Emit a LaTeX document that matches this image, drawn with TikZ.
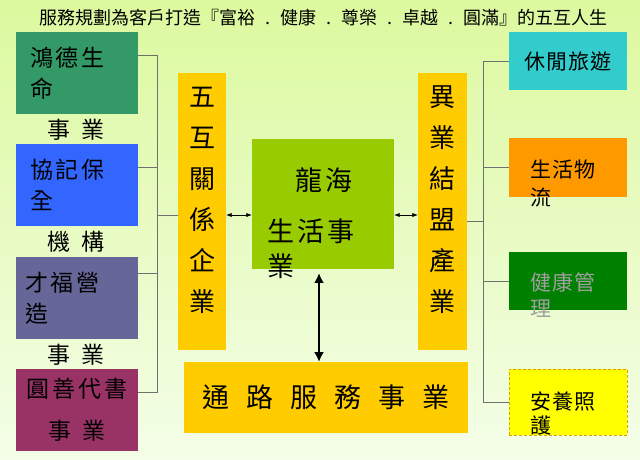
\documentclass[tikz,border=0pt]{standalone}
\usepackage{fontspec}
\setmainfont{Noto Sans CJK TC}
\usetikzlibrary{arrows.meta, positioning, calc}
\definecolor{bgtop}{HTML}{DCF99E}
\definecolor{bgbot}{HTML}{F4FEE8}
\definecolor{deepteal}{HTML}{339966}
\definecolor{royalblue}{HTML}{3366FF}
\definecolor{slateviolet}{HTML}{666699}
\definecolor{plumred}{HTML}{993366}
\definecolor{gold}{HTML}{FFCC00}
\definecolor{leaf}{HTML}{99CC00}
\definecolor{aqua}{HTML}{33CCCC}
\definecolor{amber}{HTML}{FF9900}
\definecolor{forest}{HTML}{008000}
\definecolor{lemon}{HTML}{FFFF00}
\definecolor{dashamber}{HTML}{DDA000}
\definecolor{busgray}{HTML}{707070}
\definecolor{healthgray}{HTML}{A0A0A0}

\begin{document}
\begin{tikzpicture}[
  x=1pt, y=-1pt,
  box/.style={rectangle, anchor=north west, inner sep=0pt, outer sep=0pt},
  lbox/.style={box, minimum width=122pt, minimum height=82pt, text width=94pt, inner xsep=14pt, align=left, font=\fontsize{23}{31}\selectfont\addfontfeatures{LetterSpace=13}},
  rbox/.style={box, minimum width=118pt, minimum height=58pt},
  tag/.style={inner sep=0pt, font=\fontsize{23}{28}\selectfont},
  vtext/.style={align=center, inner sep=0pt, font=\fontsize{26}{41}\selectfont},
  rtext/.style={anchor=north west, align=left, inner sep=0pt, font=\fontsize{21}{28}\selectfont\addfontfeatures{LetterSpace=5}},
  bus/.style={draw=busgray, line width=0.9pt},
  >={Latex[length=2mm]}
]
\shade[top color=bgtop, bottom color=bgbot] (0,0) rectangle (640,459);
\useasboundingbox (0,0) rectangle (640,459);

\node[inner sep=0pt, font=\fontsize{18}{20}\selectfont] (motto) at (323.5,18) {服務規劃為客戶打造『富裕\hspace{10pt}.\hspace{10pt}健康\hspace{10pt}.\hspace{10pt}尊榮\hspace{10pt}.\hspace{10pt}卓越\hspace{10pt}.\hspace{10pt}圓滿』的五互人生};

\node[lbox, fill=deepteal] (hongde) at (16,32) {鴻德生\\命};
\node[tag] (hongdetag) at (76,130) {事\hspace{11pt}業};
\node[lbox, fill=royalblue] (xieji) at (16,144) {協記保\\全};
\node[tag] (xiejitag) at (76,242) {機\hspace{11pt}構};
\node[lbox, fill=slateviolet, inner xsep=9pt, text width=104pt] (caifu) at (16,257) {才福營\\造};
\node[tag] (caifutag) at (76,355) {事\hspace{11pt}業};
\node[lbox, fill=plumred, align=center, inner xsep=4pt, text width=114pt] (yuanshan) at (16,369) {圓善代書\\[11pt]事\hspace{11pt}業};

\node[box, fill=gold, minimum width=48pt, minimum height=277pt] (wuhu) at (178,73) {};
\node[vtext] (wuhutext) at (202,200) {五\\互\\關\\係\\企\\業};
\node[box, fill=gold, minimum width=49pt, minimum height=277pt] (yiye) at (418,73) {};
\node[vtext] (yiyetext) at (442.5,200) {異\\業\\結\\盟\\產\\業};

\node[box, fill=leaf, minimum width=142pt, minimum height=130pt] (longhai) at (252,139) {};
\node[anchor=north west, align=left, inner sep=0pt, font=\fontsize{27}{35}\selectfont\addfontfeatures{LetterSpace=11}] (longhaitext) at (267,167) {\hspace*{28pt}龍海\\[16pt]生活事\\業};

\node[box, fill=gold, minimum width=284pt, minimum height=71pt, font=\fontsize{27}{30}\selectfont\addfontfeatures{LetterSpace=63}] (tonglu) at (184,362) {通路服務事業};

\node[rbox, fill=aqua, font=\fontsize{21}{24}\selectfont\addfontfeatures{LetterSpace=5}] (xiuxian) at (509,32) {休閒旅遊};
\node[rbox, fill=amber, minimum height=59pt] (wuliu) at (509,138) {};
\node[rtext] (wuliutext) at (530,160) {生活物\\流};
\node[rbox, fill=forest] (jiankang) at (509,252) {};
\node[rtext, text=healthgray] (jiankangtext) at (530,272) {健康管\\[-2pt]理};
\node[rbox, fill=lemon, draw=dashamber, line width=0.7pt, dash pattern=on 3pt off 2pt, minimum height=66pt] (anyang) at (509,369) {};
\node[rtext] (anyangtext) at (530,392) {安養照\\[-4pt]護};

\coordinate (lbus) at (157,0);
\coordinate (rbus) at (483,0);
\coordinate (mid) at (0,215);

\draw[bus] ([yshift=18pt]hongde.east) -- ([yshift=18pt]hongde.east -| lbus) -- ([yshift=17.5pt]yuanshan.east -| lbus) -- ([yshift=17.5pt]yuanshan.east);
\draw[bus] ([yshift=17.5pt]xieji.east) -- ([yshift=17.5pt]xieji.east -| lbus);
\draw[bus] ([yshift=24.5pt]caifu.east) -- ([yshift=24.5pt]caifu.east -| lbus);
\draw[bus] (wuhu.west |- mid) -- (lbus |- mid);

\draw[bus] (xiuxian.west) -- (xiuxian.west -| rbus) -- (anyang.west -| rbus) -- (anyang.west);
\foreach \n in {wuliu, jiankang}
  \draw[bus] (\n.west) -- (\n.west -| rbus);
\draw[bus] ([yshift=-9.5pt]yiye.east) -- ([yshift=-9.5pt]yiye.east -| rbus);

\draw[<->, thick] (wuhu.east |- mid) -- (longhai.west |- mid);
\draw[<->, thick] (longhai.east |- mid) -- (yiye.west |- mid);
\draw[<->, line width=2.4pt, >={Latex[length=3.5mm, width=3.5mm]}] ([shift={(-4pt,-4pt)}]longhai.south) -- ([xshift=-7pt]tonglu.north);
\end{tikzpicture}
\end{document}
